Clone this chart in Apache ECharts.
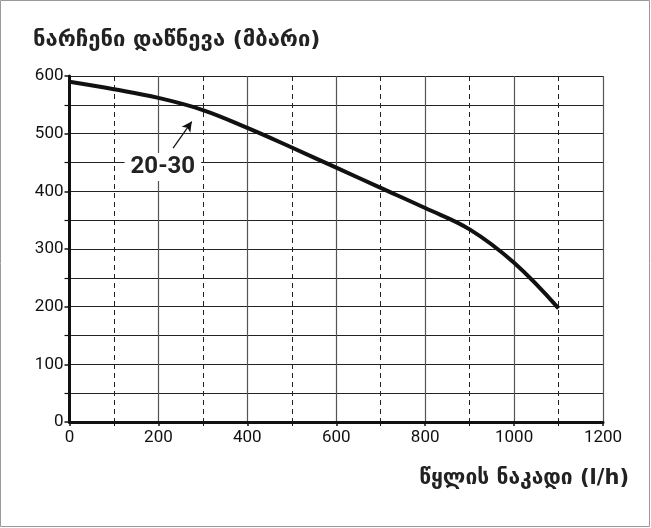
<!DOCTYPE html>
<html><head><meta charset="utf-8">
<script src="https://cdn.jsdelivr.net/npm/echarts@6/dist/echarts.min.js"></script>
<style>html,body{margin:0;padding:0;background:#fff}#c{width:651px;height:528px}</style>
</head><body><div id="c"></div>
<script>
const flowValues = [0, 100, 200, 300, 400, 500, 600, 700, 800, 900, 1000, 1100];
const pressureValues = [590, 577, 562, 541, 510, 476, 441, 406, 371, 334, 276, 197];
const curveLabel = '20-30';
const labelPos = [210, 442];
const arrowFrom = [233, 475];
const arrowTo = [275, 521];
const titleText = 'ნარჩენი დაწნევა (მბარი)';
const xName = 'წყლის ნაკადი (l/h)';

const chart = echarts.init(document.getElementById('c'), null, {renderer: 'canvas'});
const tickFont = 'Roboto, sans-serif';
chart.setOption({
  animation: false,
  graphic: [
    {type: 'rect', shape: {x: 0.5, y: 0.5, width: 649, height: 526}, style: {fill: 'none', stroke: '#999', lineWidth: 1}, z: -10},
    {type: 'text', left: 33, top: 29, style: {text: titleText, font: 'bold 22px "DejaVu Sans"', fill: '#222'}},
    {type: 'text', right: 22, top: 468, style: {text: xName, font: 'bold 21px "DejaVu Sans"', fill: '#222'}}
  ],
  grid: {left: 69.5, right: 48, top: 76, bottom: 106},
  xAxis: {
    type: 'value', min: 0, max: 1200, interval: 200,
    axisLine: {show: true, lineStyle: {color: '#111', width: 3}},
    axisTick: {show: true, length: 4, lineStyle: {color: '#111', width: 1.5}},
    minorTick: {show: true, splitNumber: 2, length: 4, lineStyle: {color: '#111'}},
    axisLabel: {color: '#111', fontSize: 17, fontFamily: tickFont, margin: 7, formatter: v => String(v)},
    splitLine: {show: true, lineStyle: {color: '#555', width: 1.2}},
    minorSplitLine: {show: true, lineStyle: {color: '#222', width: 1, type: [5, 4]}}
  },
  yAxis: {
    type: 'value', min: 0, max: 600, interval: 100,
    axisLine: {show: true, lineStyle: {color: '#111', width: 3}},
    axisTick: {show: true, length: 5, lineStyle: {color: '#111', width: 1.5}},
    minorTick: {show: true, splitNumber: 2, length: 5, lineStyle: {color: '#111', width: 1.2}},
    axisLabel: {color: '#111', fontSize: 17, fontFamily: tickFont, margin: 6, formatter: v => String(v)},
    splitLine: {show: true, lineStyle: {color: '#222', width: 1.2}},
    minorSplitLine: {show: true, lineStyle: {color: '#222', width: 1.2}}
  },
  series: [{
    type: 'line', smooth: 0.4, symbol: 'none',
    data: flowValues.map((x, i) => [x, pressureValues[i]]),
    lineStyle: {color: '#111', width: 4},
    z: 5,
    markLine: {
      silent: true, symbol: ['none', 'arrow'], symbolSize: [8, 10],
      lineStyle: {color: '#111', width: 1.2, type: 'solid'},
      label: {show: false},
      data: [[{coord: arrowFrom}, {coord: arrowTo}]]
    },
    markPoint: {
      silent: true, symbol: 'rect', symbolSize: [1, 1],
      itemStyle: {color: 'rgba(0,0,0,0)'},
      label: {show: true, position: 'inside', formatter: curveLabel, color: '#222', fontWeight: 'bold',
        fontSize: 24, fontFamily: tickFont, backgroundColor: '#fff', padding: [2, 6, 2, 6]},
      data: [{coord: labelPos}]
    }
  }]
});
</script></body></html>
